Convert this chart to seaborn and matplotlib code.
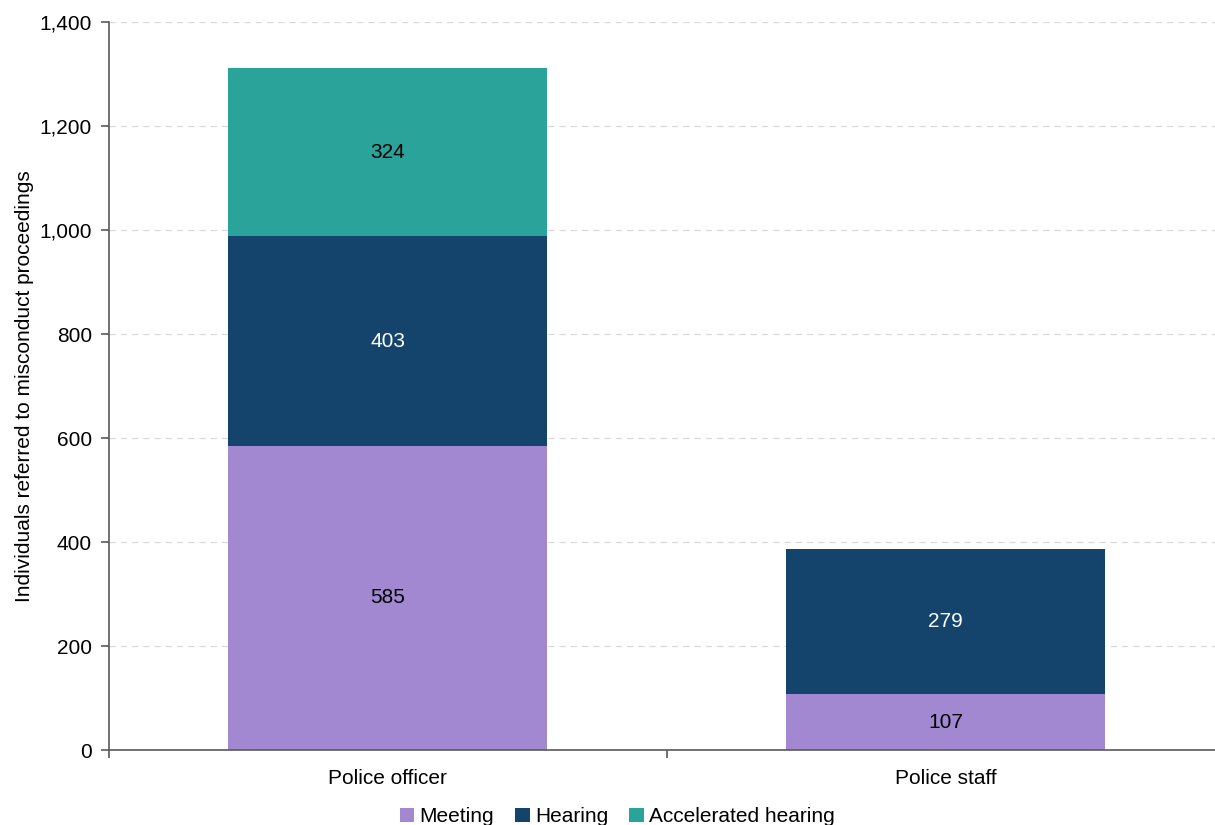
import matplotlib
matplotlib.use("Agg")
import matplotlib.pyplot as plt
from matplotlib.patches import Patch
from matplotlib.ticker import FuncFormatter, FixedLocator
import seaborn as sns
import pandas as pd

# Individuals referred to misconduct proceedings, by person type and outcome
categories = ["Police officer", "Police staff"]
meeting = [585, 107]
hearing = [403, 279]
accelerated = [324, 0]

series_names = ["Meeting", "Hearing", "Accelerated hearing"]
series_values = [meeting, hearing, accelerated]
series_colors = ["#A287D1", "#14446B", "#2AA39A"]
label_colors = ["black", "white", "black"]

y_ticks = [0, 200, 400, 600, 800, 1000, 1200, 1400]

sns.set_theme(style="white")
plt.rcParams["font.family"] = ["Liberation Sans", "DejaVu Sans"]
plt.rcParams["text.color"] = "black"
plt.rcParams["axes.labelcolor"] = "black"

fig = plt.figure(figsize=(12.15, 8.25), dpi=100)
ax = fig.add_axes([0.0895, 0.0909, 0.9185, 0.8824])

bottom = [0] * len(categories)
for name, vals, color, lcolor in zip(series_names, series_values, series_colors, label_colors):
    df = pd.DataFrame({"category": categories, "value": vals})
    before = len(ax.patches)
    sns.barplot(data=df, x="category", y="value", order=categories, color=color,
                saturation=1, width=0.572, bottom=bottom, linewidth=0, ax=ax,
                errorbar=None)
    bars = ax.patches[before:]
    for bar, v in zip(bars, vals):
        if v > 0:
            ax.text(bar.get_x() + bar.get_width() / 2, bar.get_y() + v / 2,
                    f"{v:,}", ha="center", va="center", color=lcolor, fontsize=15)
    bottom = [b + v for b, v in zip(bottom, vals)]

ax.set_xlim(-0.5, 1.5)
ax.set_ylim(0, 1400)
ax.set_yticks(y_ticks)
ax.yaxis.set_major_formatter(FuncFormatter(lambda v, p: f"{int(v):,}"))
ax.set_xlabel("")
ax.set_ylabel("Individuals referred to misconduct proceedings", fontsize=15, labelpad=4)

ax.grid(axis="y", color="#D9D9D9", linestyle=(0, (5, 4)), linewidth=0.9)
ax.set_axisbelow(True)

for side in ["top", "right"]:
    ax.spines[side].set_visible(False)
for side in ["left", "bottom"]:
    ax.spines[side].set_color("#595959")
    ax.spines[side].set_linewidth(1.2)

ax.tick_params(axis="y", which="major", left=True, length=6, width=1.2,
               color="#595959", labelsize=15, pad=6, labelcolor="black")
ax.tick_params(axis="x", which="major", length=0, labelsize=15, pad=14, labelcolor="black")
ax.xaxis.set_minor_locator(FixedLocator([-0.5, 0.5, 1.5]))
ax.tick_params(axis="x", which="minor", bottom=True, length=6, width=1.2, color="#595959")

handles = [Patch(facecolor=c, edgecolor="none", label=n) for n, c in zip(series_names, series_colors)]
fig.legend(handles=handles, loc="center", bbox_to_anchor=(0.508, 0.010), ncol=3,
           frameon=False, fontsize=15, handlelength=0.7, handleheight=0.7,
           handletextpad=0.25, columnspacing=1.0, borderaxespad=0, labelcolor="black")

fig.savefig("out.png", dpi=100)
